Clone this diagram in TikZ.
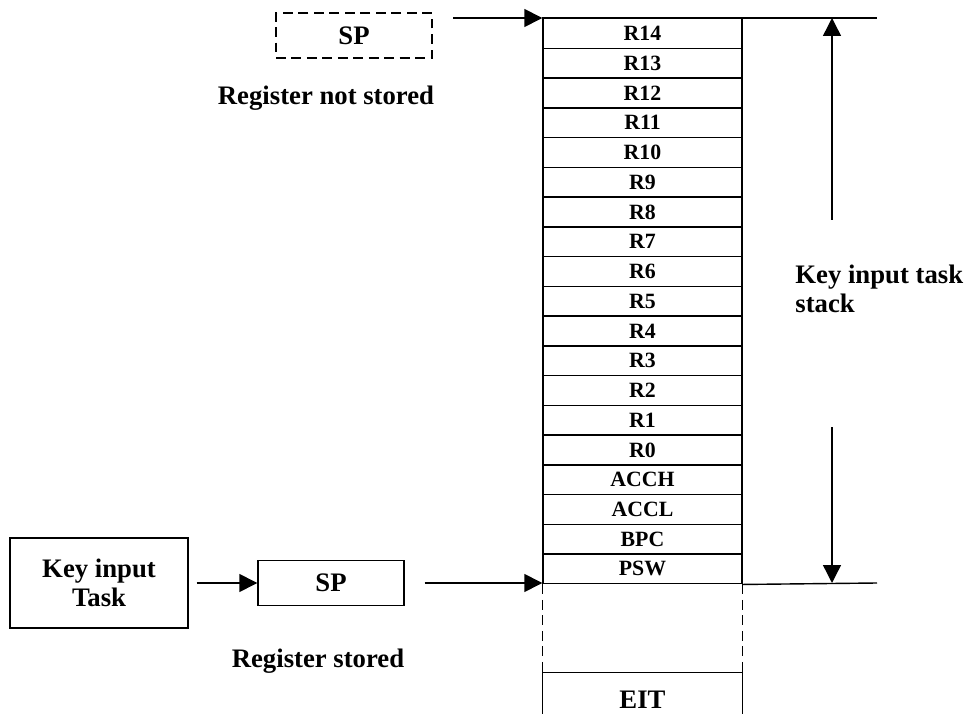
\documentclass[tikz,border=0pt]{standalone}
\usepackage{fontspec}
\setmainfont{Liberation Serif}
\usetikzlibrary{matrix,arrows.meta,calc}

\begin{document}
\begin{tikzpicture}[every node/.style={font=\bfseries\fontsize{19}{21}\selectfont}, >={Triangle[length=4.5mm, width=4.5mm]}, line width=1pt, longdash/.style={dash pattern=on 7pt off 4pt}]
	\useasboundingbox (0,0) rectangle (24.175,17.825);
	% stack of saved registers
	\matrix (stk) [matrix of nodes, inner sep=0pt, outer sep=0pt, nodes={draw, minimum width=4.975cm, minimum height=7.435mm, inner sep=0pt, anchor=center, font=\bfseries\fontsize{15.5}{17}\selectfont}, row sep=-\pgflinewidth, anchor=north] at (16.0625,17.375) {R14 \\ R13 \\ R12 \\ R11 \\ R10 \\ R9 \\ R8 \\ R7 \\ R6 \\ R5 \\ R4 \\ R3 \\ R2 \\ R1 \\ R0 \\ ACCH \\ ACCL \\ BPC \\ PSW \\};
	\draw[longdash] (stk.south west) -- ++(0,-2.2) coordinate (eitL);
	\draw[longdash] (stk.south east) -- ++(0,-2.2) coordinate (eitR);
	\draw ([yshift=-1.05cm]eitL) -- (eitL) -- (eitR) -- ++(0,-1.05);
	\node (eit) at ($(stk.south |- eitL)+(0,-0.675)$) {EIT};
	% extent of the stack
	\coordinate (topR) at (21.925,17.375);
	\coordinate (botR) at (21.925,3.25);
	\draw (stk.north west) -- (topR);
	\draw (stk.south east) -- (botR);
	\coordinate (upS) at (20.8,12.325);
	\coordinate (dnS) at (20.8,7.15);
	\draw[->] (upS) -- (upS |- topR);
	\draw[->] (dnS) -- (dnS |- botR);
	\node[anchor=west, align=left] (stklbl) at (19.75,10.6) {Key input task\\stack};
	% register not stored
	\node[draw, longdash, minimum width=3.9cm, minimum height=1.125cm, inner sep=0pt] (spns) at (8.85,16.9375) {SP};
	\node (regns) at (8.15,15.375) {Register not stored};
	\coordinate (spin) at (11.325,17.375);
	\draw[->] (spin) -- (stk.north west);
	% register stored
	\node[draw, minimum width=4.45cm, minimum height=2.25cm, align=center, inner sep=0pt] (task) at (2.475,3.25) {Key input\\Task};
	\node[draw, minimum width=3.65cm, minimum height=1.125cm, inner sep=0pt] (sps) at (8.275,3.25) {SP};
	\node (regs) at (7.95,1.3) {Register stored};
	\draw[->, shorten <=0.2cm] (task) -- (sps);
	\draw[->, shorten <=0.5cm] (sps) -- (sps -| stk.west);
\end{tikzpicture}
\end{document}
